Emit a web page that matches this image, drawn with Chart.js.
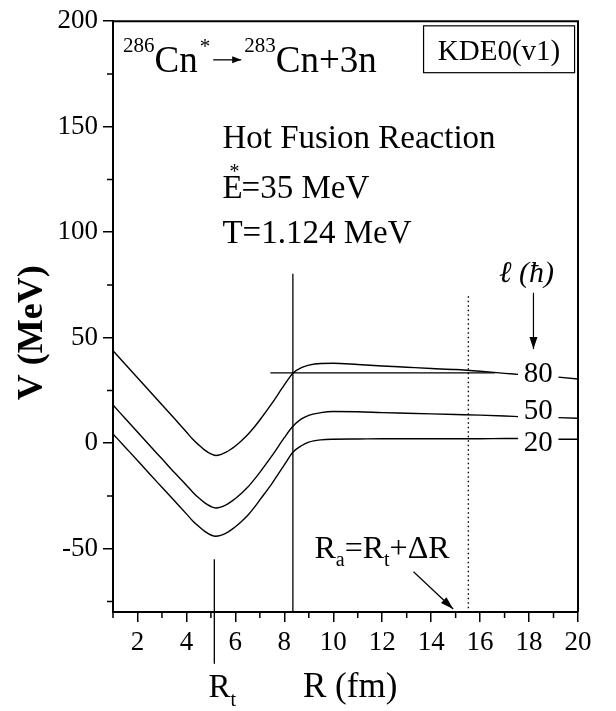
<!DOCTYPE html>
<html>
<head>
<meta charset="utf-8">
<script src="https://cdn.jsdelivr.net/npm/chart.js@4.4.0/dist/chart.umd.min.js"></script>
<style>
    html, body { margin: 0; padding: 0; background: #fff; }
</style>
</head>
<body>
<canvas id="potentialChart" width="616" height="711"></canvas>
<script>
// R (fm) grid, shared by the three curves (null leaves a gap for the labels)
const rValues = [1, 1.5, 2, 2.5, 3, 3.5, 4, 4.25, 4.5, 4.75, 5, 5.2, 5.4, 5.6, 5.8, 6, 6.25, 6.5, 6.75, 7, 7.5, 8, 8.35, 8.7, 9, 9.5, 10, 11, 12, 13, 14, 15, 16, 17, 17.55, 18.4, 19.2, 20];

// V (MeV) for l = 80, 50, 20
const vL80 = [43.8, 37.4, 31.0, 24.6, 18.2, 11.8, 5.3, 2.0, -0.8, -3.3, -5.1, -5.8, -5.4, -4.4, -3.0, -1.3, 1.2, 4.0, 7.3, 11.0, 19.0, 27.6, 33.2, 35.8, 37.0, 37.8, 37.9, 37.3, 36.6, 36.0, 35.4, 34.9, 34.1, 33.1, 32.6, null, 31.3, 30.4];
const vL50 = [18.1, 11.7, 5.3, -1.1, -7.4, -13.8, -19.9, -23.1, -25.9, -28.3, -30.0, -30.7, -30.3, -29.3, -27.9, -26.2, -23.7, -20.9, -17.5, -13.8, -5.9, 2.6, 8.0, 11.5, 13.2, 14.5, 15.0, 14.9, 14.5, 14.2, 13.9, 13.6, 13.3, 12.9, 12.6, null, 12.1, 11.8];
const vL20 = [4.4, -1.9, -8.2, -14.6, -20.9, -27.2, -33.5, -36.7, -39.4, -41.8, -43.5, -44.1, -43.7, -42.7, -41.3, -39.6, -37.1, -34.3, -30.8, -26.9, -19.0, -10.3, -4.3, -1.2, 0.5, 1.6, 1.9, 2.0, 2.1, 2.1, 2.1, 2.1, 2.1, 2.2, 2.2, null, 1.9, 1.9];
const curveLabels = ['80', '50', '20'];

// Tick values
const xTickValues = [2, 4, 6, 8, 10, 12, 14, 16, 18, 20];
const xMinorValues = [1, 3, 5, 7, 9, 11, 13, 15, 17, 19];
const yTickValues = [-50, 0, 50, 100, 150, 200];
const yMinorValues = [-75, -25, 25, 75, 125, 175];

// Reference lines
const rTouch = 8.35, vTouchTop = 80.3;          // solid vertical line
const rAsym = 15.52, vAsymTop = 69.7;           // dotted vertical line (Ra)
const rTurn = 5.14, vTurnTop = -55, vTurnBottom = -104.5; // Rt marker
const barrierFrom = 7.43, barrierTo = 16.6, vBarrier = 33.3;

const SERIF = '"Liberation Serif", "Times New Roman", serif';

function toPoints(values) {
    return rValues.map((r, i) => ({ x: r, y: values[i] }));
}

function curve(values) {
    return {
        data: toPoints(values),
        borderColor: '#000',
        borderWidth: 1.4,
        pointRadius: 0,
        spanGaps: false,
        cubicInterpolationMode: 'monotone',
        fill: false
    };
}

function segment(points, extra) {
    return Object.assign({
        data: points,
        borderColor: '#000',
        borderWidth: 1.3,
        pointRadius: 0,
        tension: 0,
        fill: false
    }, extra || {});
}

function drawRuns(ctx, x, y, runs) {
    runs.forEach(run => {
        ctx.font = (run.style || '') + ' ' + run.size + 'px ' + SERIF;
        const rx = x + (run.dx || 0);
        ctx.fillText(run.t, rx, y + (run.dy || 0));
        x = rx + ctx.measureText(run.t).width + (run.after || 0);
    });
    return x;
}

function arrow(ctx, x1, y1, x2, y2, len, half) {
    ctx.beginPath();
    ctx.moveTo(x1, y1);
    ctx.lineTo(x2, y2);
    ctx.stroke();
    const a = Math.atan2(y2 - y1, x2 - x1);
    ctx.beginPath();
    ctx.moveTo(x2, y2);
    ctx.lineTo(x2 - len * Math.cos(a) + half * Math.sin(a), y2 - len * Math.sin(a) - half * Math.cos(a));
    ctx.lineTo(x2 - len * Math.cos(a) - half * Math.sin(a), y2 - len * Math.sin(a) + half * Math.cos(a));
    ctx.closePath();
    ctx.fill();
}

const annotations = {
    id: 'annotations',
    afterDraw(chart) {
        const ctx = chart.ctx;
        const area = chart.chartArea;
        const X = v => chart.scales.x.getPixelForValue(v);
        const Y = v => chart.scales.y.getPixelForValue(v);

        ctx.save();
        ctx.strokeStyle = '#000';
        ctx.fillStyle = '#000';

        // top and right frame
        ctx.lineWidth = 2;
        ctx.beginPath();
        ctx.moveTo(area.left, area.top);
        ctx.lineTo(area.right, area.top);
        ctx.lineTo(area.right, area.bottom);
        ctx.stroke();

        // minor ticks
        ctx.lineWidth = 1.5;
        ctx.beginPath();
        xMinorValues.forEach(v => {
            ctx.moveTo(X(v), area.bottom);
            ctx.lineTo(X(v), area.bottom + 6);
        });
        yMinorValues.forEach(v => {
            ctx.moveTo(area.left - 6, Y(v));
            ctx.lineTo(area.left, Y(v));
        });
        ctx.stroke();

        ctx.textBaseline = 'alphabetic';
        ctx.textAlign = 'left';

        // reaction title
        const tb = Y(176);
        let tx = drawRuns(ctx, X(1.41), tb, [
            { t: '286', size: 21, dy: -20 },
            { t: 'Cn', size: 37 },
            { t: '*', size: 21, dy: -19, dx: 2 }
        ]);
        ctx.lineWidth = 1.3;
        arrow(ctx, tx + 3, tb - 12, tx + 31, tb - 12, 9, 3.5);
        drawRuns(ctx, tx + 34, tb, [
            { t: '283', size: 21, dy: -20 },
            { t: 'Cn+3n', size: 37 }
        ]);

        drawRuns(ctx, X(5.47), Y(139.7), [{ t: 'Hot Fusion Reaction', size: 33 }]);
        drawRuns(ctx, X(5.47), Y(116), [
            { t: 'E', size: 33, after: -13 },
            { t: '*', size: 20, dy: -20, after: 2 },
            { t: '=35 MeV', size: 33 }
        ]);
        drawRuns(ctx, X(5.47), Y(94.8), [{ t: 'T=1.124 MeV', size: 33 }]);

        // KDE0(v1) box
        ctx.lineWidth = 1.2;
        const bx1 = X(13.69), bx2 = X(19.86), by1 = Y(197.8), by2 = Y(175.6);
        ctx.strokeRect(bx1, by1, bx2 - bx1, by2 - by1);
        ctx.textAlign = 'center';
        ctx.font = '29px ' + SERIF;
        ctx.fillText('KDE0(v1)', (bx1 + bx2) / 2, by2 - 13);

        // l (hbar) label and arrow
        ctx.font = 'italic 30px ' + SERIF;
        ctx.fillText('\u2113 (\u0127)', X(17.9), Y(76.4));
        ctx.lineWidth = 1.2;
        arrow(ctx, X(18.18), Y(71.3), X(18.18), Y(44.6), 12, 4);

        // curve labels
        ctx.font = '29px ' + SERIF;
        const labelV = [29.0, 11.5, -3.5];
        curveLabels.forEach((t, i) => ctx.fillText(t, X(18.38), Y(labelV[i])));

        // Ra = Rt + dR
        ctx.textAlign = 'left';
        drawRuns(ctx, X(9.23), Y(-54.6), [
            { t: 'R', size: 32 },
            { t: 'a', size: 20, dy: 8 },
            { t: '=R', size: 32 },
            { t: 't', size: 20, dy: 8 },
            { t: '+\u0394R', size: 32 }
        ]);
        ctx.lineWidth = 1.2;
        arrow(ctx, X(13.28), Y(-60.9), X(14.9), Y(-78.6), 13, 4);

        // Rt label
        drawRuns(ctx, X(4.9), Y(-120.1), [
            { t: 'R', size: 33 },
            { t: 't', size: 20, dy: 9 }
        ]);

        // axis titles
        ctx.textAlign = 'center';
        ctx.font = '35px ' + SERIF;
        ctx.fillText('R (fm)', X(10.69), Y(-120.1));

        ctx.save();
        ctx.translate(area.left - 80, Y(52.3));
        ctx.rotate(-Math.PI / 2);
        ctx.font = 'bold 36px ' + SERIF;
        ctx.textBaseline = 'middle';
        ctx.fillText('V (MeV)', 0, 0);
        ctx.restore();

        ctx.restore();
    }
};

const tickFont = { family: SERIF, size: 27 };

new Chart(document.getElementById('potentialChart').getContext('2d'), {
    type: 'line',
    data: {
        datasets: [
            curve(vL80),
            curve(vL50),
            curve(vL20),
            segment([{ x: rTouch, y: vTouchTop }, { x: rTouch, y: -80 }]),
            segment([{ x: rAsym, y: vAsymTop }, { x: rAsym, y: -80 }], { borderDash: [1.5, 3], borderWidth: 1.4 }),
            segment([{ x: barrierFrom, y: vBarrier }, { x: barrierTo, y: vBarrier }]),
            segment([{ x: rTurn, y: vTurnTop }, { x: rTurn, y: vTurnBottom }], { clip: false })
        ]
    },
    options: {
        responsive: false,
        animation: false,
        devicePixelRatio: 1,
        layout: { padding: { left: 0, top: 19, right: 38, bottom: 0 } },
        plugins: {
            legend: { display: false },
            tooltip: { enabled: false }
        },
        scales: {
            x: {
                type: 'linear',
                min: 1,
                max: 20,
                afterBuildTicks: scale => { scale.ticks = xTickValues.map(v => ({ value: v })); },
                afterFit: scale => { scale.height = 99; },
                ticks: { font: tickFont, color: '#000', padding: 5, maxRotation: 0, autoSkip: false },
                grid: { drawOnChartArea: false, drawTicks: true, tickLength: 10, color: '#000', lineWidth: 1.5 },
                border: { display: true, color: '#000', width: 2 }
            },
            y: {
                min: -80,
                max: 200,
                afterBuildTicks: scale => { scale.ticks = yTickValues.map(v => ({ value: v })); },
                afterFit: scale => { scale.width = 113; },
                ticks: { font: tickFont, color: '#000', padding: 5 },
                grid: { drawOnChartArea: false, drawTicks: true, tickLength: 10, color: '#000', lineWidth: 1.5 },
                border: { display: true, color: '#000', width: 2 }
            }
        }
    },
    plugins: [annotations]
});
</script>
</body>
</html>
